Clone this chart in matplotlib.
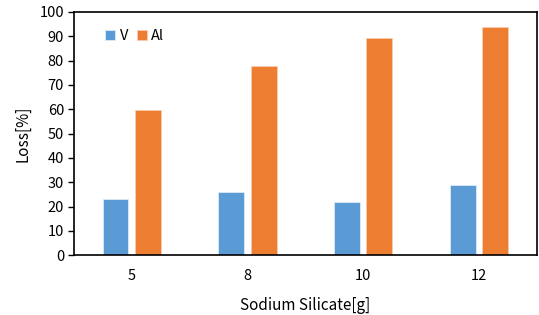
import matplotlib.pyplot as plt
import numpy as np

plt.rcParams['font.family'] = ['Noto Sans CJK KR', 'DejaVu Sans']

categories = ["5", "8", "10", "12"]
v_loss = [23.0, 26.0, 22.0, 28.7]
al_loss = [59.7, 77.8, 89.3, 93.8]

fig = plt.figure(figsize=(5.39, 3.15), dpi=100)
ax = fig.add_axes([0.137, 0.19, 0.859, 0.772])

x = np.arange(len(categories))
w = 0.224
ax.bar(x - 0.14, v_loss, w, color="#5B9BD5", edgecolor="#DDEBF7", linewidth=0.6, label="V")
ax.bar(x + 0.14, al_loss, w, color="#ED7D31", edgecolor="#F8CBAD", linewidth=0.6, label="Al")

ax.set_xlim(-0.5, 3.5)
ax.set_ylim(0, 100)
ax.set_yticks(range(0, 101, 10))
ax.set_xticks(x)
ax.set_xticklabels(categories)
ax.tick_params(axis="x", length=0, pad=10, labelsize=10.5)
ax.tick_params(axis="y", length=4, width=1, labelsize=10.5, pad=3)
for s in ax.spines.values():
    s.set_linewidth(1.2)
    s.set_color("black")

ax.set_xlabel("Sodium Silicate[g]", fontsize=11, labelpad=10)
ax.set_ylabel("Loss[%]", fontsize=11, labelpad=6)

ax.legend(loc="upper left", bbox_to_anchor=(0.055, 0.955), ncol=2, frameon=False,
          fontsize=10.5, handlelength=0.7, handleheight=0.7, handletextpad=0.3,
          columnspacing=0.6, borderaxespad=0)

fig.savefig("out.png", dpi=100)
